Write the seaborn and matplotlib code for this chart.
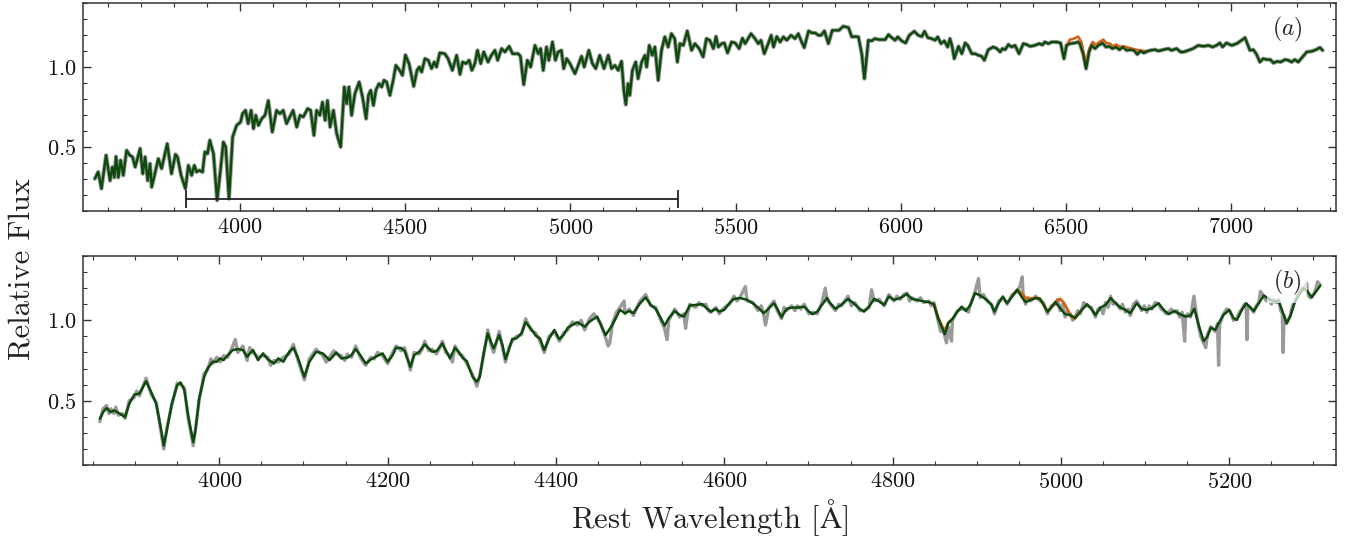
import matplotlib
matplotlib.use("Agg")
import matplotlib.pyplot as plt
import seaborn as sns
from matplotlib.ticker import MultipleLocator

# ---------------- data ----------------
# Panel (a): full spectrum, best-fit model (green) ~ observed (grey underneath)
wave_a = [3561, 3571, 3581, 3595, 3607, 3614, 3620, 3625, 3632, 3639, 3647, 3657, 3667, 3675, 3683,
          3698, 3706, 3713, 3721, 3728, 3733, 3740, 3753, 3763, 3780, 3793, 3805, 3811, 3822, 3835,
          3844, 3854, 3862, 3869, 3877, 3887, 3894, 3902, 3909, 3920, 3931, 3940, 3950, 3957, 3967,
          3978, 3990, 4002, 4008, 4017, 4025, 4034, 4041, 4048, 4056, 4066, 4076, 4086, 4098, 4111,
          4121, 4131, 4141, 4151, 4161, 4172, 4182, 4192, 4205, 4214, 4224, 4232, 4242, 4250, 4258,
          4265, 4273, 4283, 4293, 4305, 4316, 4323, 4330, 4338, 4348, 4361, 4371, 4382, 4389, 4396,
          4404, 4412, 4421, 4429, 4436, 4444, 4454, 4464, 4472, 4483, 4492, 4501, 4512, 4526, 4536,
          4543, 4550, 4560, 4570, 4580, 4588, 4595, 4605, 4620, 4630, 4643, 4656, 4666, 4674, 4684,
          4694, 4702, 4711, 4719, 4729, 4738, 4751, 4761, 4772, 4780, 4792, 4802, 4815, 4825, 4842,
          4849, 4859, 4870, 4880, 4893, 4903, 4910, 4918, 4928, 4935, 4946, 4955, 4963, 4973, 4980,
          4989, 4999, 5014, 5022, 5034, 5042, 5056, 5067, 5077, 5089, 5102, 5115, 5125, 5135, 5145,
          5155, 5162, 5168, 5175, 5180, 5188, 5198, 5205, 5216, 5226, 5231, 5239, 5248, 5256, 5266,
          5276, 5286, 5296, 5306, 5316, 5324, 5332, 5342, 5354, 5367, 5377, 5390, 5402, 5412, 5422,
          5433, 5441, 5448, 5458, 5466, 5476, 5488, 5499, 5511, 5521, 5529, 5547, 5559, 5569, 5577,
          5587, 5599, 5608, 5615, 5625, 5635, 5645, 5655, 5668, 5680, 5690, 5698, 5708, 5721, 5731,
          5741, 5751, 5759, 5769, 5781, 5793, 5803, 5813, 5826, 5842, 5852, 5862, 5872, 5882, 5890,
          5895, 5902, 5912, 5922, 5934, 5944, 5953, 5963, 5973, 5983, 5991, 6003, 6015, 6026, 6041,
          6053, 6064, 6072, 6082, 6094, 6104, 6112, 6122, 6132, 6142, 6149, 6156, 6162, 6175, 6185,
          6195, 6203, 6215, 6225, 6235, 6245, 6253, 6265, 6280, 6291, 6301, 6308, 6316, 6326, 6336,
          6346, 6358, 6371, 6381, 6392, 6406, 6419, 6429, 6436, 6447, 6457, 6472, 6484, 6494, 6502,
          6512, 6527, 6537, 6542, 6552, 6561, 6570, 6578, 6588, 6598, 6611, 6621, 6631, 6641, 6651,
          6662, 6672, 6684, 6694, 6706, 6716, 6726, 6736, 6746, 6756, 6770, 6780, 6795, 6810, 6820,
          6835, 6847, 6857, 6870, 6885, 6901, 6916, 6931, 6944, 6956, 6966, 6974, 6986, 7002, 7017,
          7032, 7042, 7049, 7057, 7067, 7077, 7087, 7097, 7109, 7119, 7128, 7140, 7150, 7163, 7173,
          7183, 7193, 7203, 7214, 7229, 7244, 7257, 7269, 7277]
flux_a = [0.302, 0.344, 0.240, 0.448, 0.290, 0.375, 0.310, 0.440, 0.310, 0.417, 0.323, 0.479, 0.448, 0.438, 0.375,
          0.490, 0.333, 0.438, 0.290, 0.396, 0.250, 0.310, 0.427, 0.365, 0.520, 0.333, 0.454, 0.438, 0.323, 0.240,
          0.385, 0.323, 0.385, 0.344, 0.354, 0.344, 0.469, 0.458, 0.542, 0.458, 0.167, 0.333, 0.531, 0.500, 0.177,
          0.563, 0.635, 0.656, 0.708, 0.729, 0.646, 0.729, 0.615, 0.698, 0.635, 0.677, 0.698, 0.790, 0.594, 0.729,
          0.708, 0.729, 0.646, 0.688, 0.729, 0.625, 0.698, 0.688, 0.740, 0.729, 0.573, 0.729, 0.698, 0.780, 0.667,
          0.790, 0.625, 0.729, 0.583, 0.500, 0.875, 0.771, 0.875, 0.698, 0.833, 0.906, 0.813, 0.677, 0.823, 0.854,
          0.760, 0.858, 0.896, 0.875, 0.917, 0.906, 0.823, 0.917, 1.010, 0.980, 0.948, 1.075, 1.020, 0.879, 0.979,
          1.000, 0.969, 1.052, 1.042, 0.990, 1.031, 1.000, 1.088, 1.083, 1.052, 0.979, 1.073, 0.954, 1.031, 1.021,
          1.042, 0.979, 1.021, 1.104, 1.021, 1.094, 1.031, 1.073, 1.104, 1.042, 1.115, 1.094, 1.129, 1.083, 1.083,
          1.067, 0.890, 1.042, 1.000, 1.135, 1.083, 1.115, 0.979, 1.125, 1.042, 1.156, 1.042, 1.094, 1.104, 0.990,
          1.052, 1.021, 0.958, 1.000, 1.067, 1.000, 1.104, 1.021, 0.990, 1.073, 0.990, 1.073, 0.990, 1.010, 0.979,
          1.035, 0.854, 0.765, 0.896, 0.823, 0.979, 1.031, 0.927, 1.031, 1.073, 1.000, 1.135, 1.073, 1.125, 0.917,
          1.104, 1.188, 1.125, 1.208, 1.177, 1.031, 1.146, 1.135, 1.225, 1.104, 1.146, 1.115, 1.063, 1.177, 1.167,
          1.115, 1.190, 1.125, 1.146, 1.150, 1.088, 1.156, 1.150, 1.115, 1.180, 1.146, 1.208, 1.177, 1.146, 1.167,
          1.083, 1.146, 1.198, 1.125, 1.190, 1.156, 1.188, 1.167, 1.198, 1.177, 1.208, 1.167, 1.121, 1.225, 1.213,
          1.213, 1.198, 1.198, 1.225, 1.146, 1.229, 1.229, 1.229, 1.254, 1.246, 1.188, 1.190, 1.188, 1.083, 0.927,
          1.021, 1.167, 1.163, 1.177, 1.171, 1.171, 1.171, 1.202, 1.183, 1.167, 1.188, 1.163, 1.150, 1.198, 1.223,
          1.198, 1.190, 1.223, 1.183, 1.177, 1.167, 1.188, 1.146, 1.163, 1.125, 1.177, 1.125, 1.052, 1.129, 1.083,
          1.150, 1.135, 1.083, 1.083, 1.073, 1.067, 1.042, 1.108, 1.125, 1.115, 1.094, 1.115, 1.108, 1.140, 1.125,
          1.135, 1.083, 1.146, 1.140, 1.129, 1.135, 1.146, 1.138, 1.156, 1.146, 1.156, 1.156, 1.150, 1.052, 1.135,
          1.146, 1.150, 1.156, 1.146, 1.083, 0.990, 1.094, 1.135, 1.115, 1.135, 1.150, 1.125, 1.129, 1.115, 1.125,
          1.108, 1.125, 1.104, 1.108, 1.104, 1.079, 1.100, 1.088, 1.098, 1.104, 1.108, 1.100, 1.108, 1.115, 1.104,
          1.115, 1.094, 1.094, 1.104, 1.115, 1.135, 1.129, 1.135, 1.125, 1.135, 1.150, 1.125, 1.150, 1.135, 1.146,
          1.167, 1.183, 1.146, 1.104, 1.108, 1.079, 1.031, 1.052, 1.046, 1.046, 1.025, 1.035, 1.031, 1.046, 1.042,
          1.031, 1.046, 1.031, 1.058, 1.094, 1.098, 1.108, 1.121, 1.104]

# Panel (a): emission-line model (orange) where it departs from the green fit
wave_a_em = [6502, 6512, 6524, 6537, 6547, 6561, 6571, 6581, 6591, 6601, 6613, 6623, 6633, 6643, 6653,
             6663, 6676, 6689, 6699, 6712, 6724, 6736, 6746]
flux_a_em = [1.135, 1.171, 1.177, 1.190, 1.156, 1.010, 1.115, 1.156, 1.138, 1.156, 1.171, 1.150, 1.146, 1.129,
             1.140, 1.125, 1.129, 1.121, 1.115, 1.108, 1.104, 1.100, 1.098]

# Wavelength range of the zoomed panel (b), marked in panel (a)
zoom_range = [3836, 5327]
zoom_bar_level = 0.173

# Panel (b): zoom, smooth fit (green)
wave_b = [3858, 3862, 3866, 3871, 3875, 3880, 3885, 3888, 3893, 3899, 3905, 3913, 3919, 3925, 3930,
          3934, 3938, 3943.5, 3950, 3954, 3958.5, 3963, 3969, 3972, 3976, 3982, 3986, 3992, 3997, 4001,
          4005, 4010, 4016, 4022, 4028, 4033, 4040, 4046, 4052, 4057.5, 4065, 4070, 4076, 4083, 4088,
          4093, 4101, 4107, 4115, 4123, 4131, 4139, 4145, 4152, 4157, 4162, 4167.5, 4174, 4180, 4188,
          4194, 4200, 4206, 4210, 4216, 4220, 4227, 4231.5, 4237.5, 4244, 4249, 4253, 4258, 4265, 4269,
          4274, 4280, 4285, 4289, 4294, 4301, 4306, 4309.5, 4314, 4319, 4322.6, 4326, 4332.5, 4336.4, 4340,
          4344, 4348, 4353, 4359, 4364, 4370, 4376, 4381, 4386, 4392, 4398, 4404, 4409, 4414, 4419.5,
          4425.5, 4434, 4440, 4449, 4453, 4459, 4467, 4476, 4482, 4487, 4492, 4500, 4506.6, 4512.6, 4518.5,
          4523.6, 4529, 4534, 4541, 4547, 4552, 4559, 4566, 4574, 4578, 4584, 4590, 4594, 4600, 4606,
          4611.5, 4619.4, 4627, 4634, 4640, 4647, 4653, 4659, 4663, 4668, 4674, 4680, 4687, 4695, 4700.5,
          4705, 4710.4, 4716, 4722, 4726, 4732, 4739, 4747, 4755, 4761, 4766, 4772, 4778, 4784, 4790,
          4795.5, 4801.5, 4809, 4817, 4823, 4829, 4837, 4843, 4849, 4854, 4859, 4862, 4866, 4871, 4877,
          4882, 4887, 4892.5, 4898, 4904, 4912, 4917.4, 4921, 4926, 4931, 4936, 4942, 4948, 4953, 4958,
          4964, 4970, 4975, 4979, 4984, 4988.5, 4993.4, 4999, 5005, 5011, 5017, 5023, 5031, 5036, 5041,
          5047, 5053, 5059, 5065, 5070.6, 5076.5, 5082.4, 5090, 5096, 5102, 5108, 5116, 5122, 5128, 5135,
          5141, 5148, 5154, 5158.4, 5163.6, 5169.5, 5174, 5178, 5183.4, 5187.3, 5193, 5200, 5205, 5209, 5215,
          5220, 5225, 5229, 5235, 5241, 5247, 5253, 5258.6, 5264, 5268, 5272.4, 5278.4, 5283.5, 5288, 5293,
          5298, 5303, 5308]
fit_b = [0.388, 0.429, 0.454, 0.429, 0.440, 0.425, 0.408, 0.398, 0.481, 0.538, 0.544, 0.621, 0.554, 0.481, 0.346,
         0.221, 0.325, 0.481, 0.596, 0.613, 0.565, 0.408, 0.242, 0.325, 0.513, 0.648, 0.700, 0.742, 0.742, 0.763,
         0.752, 0.783, 0.815, 0.821, 0.815, 0.773, 0.815, 0.752, 0.794, 0.758, 0.731, 0.763, 0.742, 0.804, 0.829,
         0.773, 0.648, 0.742, 0.804, 0.794, 0.752, 0.800, 0.763, 0.767, 0.783, 0.821, 0.783, 0.731, 0.756, 0.779,
         0.794, 0.742, 0.783, 0.829, 0.828, 0.810, 0.710, 0.783, 0.804, 0.850, 0.825, 0.804, 0.808, 0.856, 0.815,
         0.763, 0.829, 0.800, 0.767, 0.746, 0.648, 0.617, 0.648, 0.794, 0.919, 0.867, 0.825, 0.908, 0.846, 0.758,
         0.815, 0.883, 0.888, 0.919, 0.988, 0.950, 0.904, 0.888, 0.815, 0.888, 0.940, 0.883, 0.908, 0.954, 0.971,
         0.988, 0.960, 0.992, 1.023, 0.975, 0.908, 0.971, 1.065, 1.044, 1.058, 1.044, 1.106, 1.142, 1.096, 1.071,
         1.023, 0.967, 1.013, 1.058, 1.033, 1.023, 1.092, 1.096, 1.100, 1.079, 1.054, 1.071, 1.054, 1.065, 1.106,
         1.133, 1.138, 1.127, 1.106, 1.079, 1.044, 1.075, 1.106, 1.071, 1.019, 1.071, 1.079, 1.079, 1.085, 1.054,
         1.038, 1.054, 1.096, 1.138, 1.106, 1.071, 1.096, 1.133, 1.100, 1.071, 1.054, 1.085, 1.133, 1.117, 1.096,
         1.148, 1.127, 1.138, 1.163, 1.133, 1.127, 1.117, 1.113, 1.100, 1.013, 0.950, 0.913, 0.981, 1.008, 1.054,
         1.085, 1.058, 1.096, 1.169, 1.154, 1.127, 1.096, 1.054, 1.106, 1.148, 1.106, 1.148, 1.190, 1.148, 1.113,
         1.127, 1.138, 1.133, 1.100, 1.054, 1.079, 1.113, 1.075, 1.038, 1.033, 1.013, 1.054, 1.100, 1.071, 1.033,
         1.079, 1.096, 1.138, 1.106, 1.079, 1.065, 1.044, 1.106, 1.071, 1.065, 1.075, 1.106, 1.065, 1.038, 1.058,
         1.038, 1.023, 1.029, 1.071, 0.971, 0.871, 0.898, 0.954, 0.940, 0.981, 1.033, 1.065, 1.013, 1.002, 1.065,
         1.106, 1.079, 1.058, 1.106, 1.154, 1.133, 1.117, 1.121, 1.044, 0.981, 1.023, 1.121, 1.163, 1.200, 1.179,
         1.142, 1.179, 1.215]

# Panel (b): observed spectrum (grey)
wave_b_obs = [3858, 3860, 3862, 3866, 3869, 3871, 3875, 3877, 3880, 3885, 3888, 3893, 3899, 3902, 3905,
              3913, 3919, 3925, 3930, 3934, 3938, 3943.5, 3950, 3954, 3958.5, 3963, 3969, 3972, 3976, 3982,
              3986, 3990, 3992, 3997, 4001, 4005, 4010, 4016, 4019, 4022, 4028, 4033, 4036, 4040, 4046,
              4052, 4057.5, 4061, 4065, 4070, 4076, 4083, 4088, 4093, 4101, 4107, 4111, 4115, 4123, 4127,
              4131, 4136, 4139, 4145, 4149, 4152, 4157, 4162, 4167.5, 4171, 4174, 4180, 4184, 4188, 4194,
              4200, 4206, 4210, 4216, 4220, 4223, 4227, 4231.5, 4237.5, 4241, 4244, 4249, 4253, 4258, 4262,
              4265, 4269, 4274, 4277, 4280, 4285, 4289, 4294, 4301, 4306, 4309.5, 4314, 4319, 4322.6, 4326,
              4329, 4332.5, 4336.4, 4340, 4344, 4348, 4353, 4359, 4364, 4370, 4376, 4381, 4386, 4392, 4398,
              4404, 4409, 4414, 4419.5, 4425.5, 4430, 4434, 4440, 4445, 4449, 4453, 4459, 4462, 4464, 4467,
              4472, 4476, 4481, 4482, 4487, 4492, 4496, 4500, 4506.6, 4509, 4512.6, 4518.5, 4523.6, 4529, 4532,
              4534, 4538, 4541, 4547, 4552, 4554, 4556, 4559, 4566, 4570, 4574, 4578, 4581, 4584, 4590,
              4594, 4600, 4606, 4611.5, 4615, 4619.4, 4625, 4627, 4634, 4640, 4644, 4647, 4649, 4653, 4659,
              4663, 4668, 4671, 4674, 4680, 4684, 4687, 4691, 4695, 4700.5, 4705, 4710.4, 4716, 4720, 4722,
              4726, 4732, 4736, 4739, 4743, 4747, 4751, 4755, 4761, 4766, 4772, 4775, 4778, 4784, 4790,
              4795.5, 4801.5, 4805, 4809, 4813, 4817, 4820, 4823, 4829, 4833, 4837, 4843, 4846, 4849, 4854,
              4857, 4859, 4862, 4864, 4866, 4870, 4871, 4874, 4877, 4882, 4887, 4890, 4892.5, 4898, 4902,
              4904, 4908, 4912, 4917.4, 4921, 4924, 4926, 4931, 4936, 4942, 4948, 4951, 4954, 4955, 4958,
              4961, 4964, 4970, 4975, 4979, 4984, 4988.5, 4993.4, 4996, 4999, 5002, 5005, 5008, 5011, 5014,
              5017, 5020, 5023, 5027, 5031, 5036, 5041, 5044, 5047, 5050, 5053, 5056, 5059, 5062, 5065,
              5070.6, 5073, 5076.5, 5080, 5082.4, 5086, 5090, 5096, 5099, 5102, 5105, 5108, 5112, 5116, 5119,
              5122, 5125, 5128, 5131, 5135, 5138, 5141, 5144, 5147, 5148, 5151, 5154, 5158, 5160, 5163.6,
              5166, 5169.5, 5172, 5174, 5178, 5183.4, 5186, 5187.3, 5188.5, 5193, 5197, 5200, 5203, 5205, 5209,
              5212, 5215, 5218, 5220, 5221, 5222, 5225, 5229, 5232, 5235, 5237, 5241, 5244, 5247, 5250,
              5253, 5256, 5258.6, 5261, 5263, 5264, 5265, 5268, 5272.4, 5275, 5278.4, 5283.5, 5286, 5288, 5292,
              5293, 5296, 5298, 5301, 5303, 5305, 5308]
obs_b = [0.37, 0.41, 0.45, 0.47, 0.42, 0.45, 0.42, 0.46, 0.41, 0.42, 0.39, 0.50, 0.52, 0.56, 0.53,
         0.64, 0.54, 0.49, 0.33, 0.20, 0.34, 0.47, 0.61, 0.60, 0.58, 0.39, 0.22, 0.34, 0.50, 0.67,
         0.69, 0.76, 0.73, 0.77, 0.74, 0.78, 0.77, 0.84, 0.88, 0.80, 0.84, 0.75, 0.83, 0.80, 0.77,
         0.78, 0.77, 0.72, 0.75, 0.74, 0.77, 0.79, 0.85, 0.76, 0.63, 0.76, 0.79, 0.82, 0.78, 0.74,
         0.77, 0.81, 0.79, 0.78, 0.75, 0.79, 0.77, 0.84, 0.77, 0.74, 0.72, 0.77, 0.76, 0.80, 0.78,
         0.73, 0.80, 0.84, 0.81, 0.83, 0.78, 0.69, 0.80, 0.79, 0.82, 0.87, 0.81, 0.82, 0.79, 0.83,
         0.87, 0.80, 0.78, 0.74, 0.84, 0.79, 0.78, 0.73, 0.66, 0.59, 0.66, 0.78, 0.94, 0.85, 0.80,
         0.86, 0.93, 0.83, 0.74, 0.83, 0.87, 0.90, 0.91, 1.01, 0.94, 0.92, 0.87, 0.80, 0.90, 0.93,
         0.87, 0.92, 0.94, 0.99, 0.97, 1.00, 0.94, 1.01, 1.04, 1.01, 0.98, 0.89, 0.84, 0.86, 0.98,
         1.05, 1.08, 1.12, 1.04, 1.07, 1.03, 1.08, 1.12, 1.16, 1.13, 1.09, 1.08, 1.01, 0.95, 0.88,
         1.00, 1.04, 1.07, 1.02, 1.04, 0.95, 1.03, 1.10, 1.08, 1.11, 1.09, 1.10, 1.06, 1.05, 1.08,
         1.04, 1.08, 1.10, 1.15, 1.12, 1.15, 1.21, 1.12, 1.11, 1.06, 1.09, 1.03, 0.97, 1.08, 1.12,
         1.06, 1.01, 1.08, 1.06, 1.09, 1.06, 1.09, 1.07, 1.10, 1.04, 1.05, 1.04, 1.11, 1.20, 1.13,
         1.10, 1.06, 1.10, 1.09, 1.12, 1.15, 1.09, 1.11, 1.06, 1.06, 1.08, 1.19, 1.12, 1.13, 1.09,
         1.16, 1.12, 1.15, 1.13, 1.16, 1.17, 1.12, 1.14, 1.12, 1.14, 1.11, 1.12, 1.09, 1.11, 1.00,
         0.93, 0.95, 0.90, 0.86, 0.96, 0.87, 1.00, 1.03, 1.06, 1.07, 1.07, 1.05, 1.10, 1.18, 1.26,
         1.14, 1.16, 1.12, 1.10, 1.04, 1.09, 1.12, 1.14, 1.10, 1.16, 1.18, 1.21, 1.27, 1.15, 1.10,
         1.14, 1.12, 1.15, 1.12, 1.11, 1.04, 1.09, 1.10, 1.13, 1.06, 1.10, 1.02, 1.06, 1.04, 1.00,
         1.02, 1.06, 1.04, 1.11, 1.09, 1.08, 1.02, 1.07, 1.08, 1.04, 1.11, 1.08, 1.15, 1.10, 1.11,
         1.07, 1.10, 1.05, 1.07, 1.03, 1.10, 1.12, 1.06, 1.09, 1.05, 1.09, 1.07, 1.11, 1.10, 1.07,
         1.06, 1.04, 1.05, 1.07, 1.05, 1.06, 1.02, 1.05, 0.87, 1.03, 1.04, 1.02, 1.15, 1.07, 0.96,
         0.90, 0.86, 0.83, 0.91, 0.96, 0.93, 0.98, 0.72, 0.97, 1.04, 1.07, 1.06, 1.03, 1.00, 1.01,
         1.05, 1.07, 1.10, 1.10, 0.88, 1.09, 1.08, 1.05, 1.09, 1.11, 1.18, 1.15, 1.12, 1.14, 1.10,
         1.13, 1.11, 1.13, 1.06, 1.04, 0.80, 1.03, 0.98, 1.03, 1.09, 1.12, 1.17, 1.20, 1.19, 1.23,
         1.16, 1.14, 1.15, 1.17, 1.20, 1.24, 1.22]

# Panel (b): emission-line model (orange) where it departs from the green fit
wave_b_em1 = [4849, 4854, 4859, 4862, 4866, 4871]
flux_b_em1 = [1.100, 1.020, 0.960, 0.935, 0.985, 1.008]
wave_b_em2 = [4942, 4948, 4953, 4958, 4964, 4970, 4975, 4979, 4984, 4988.5, 4993.4, 4999, 5003, 5007,
              5011, 5015, 5020, 5023]
flux_b_em2 = [1.148, 1.190, 1.170, 1.140, 1.135, 1.140, 1.135, 1.100, 1.054, 1.080, 1.115, 1.133, 1.112,
              1.075, 1.030, 1.013, 1.040, 1.054]

# ---------------- style ----------------
sns.set_style("ticks")
plt.rcParams['font.family'] = ['cmr10', 'DejaVu Serif']
plt.rcParams['mathtext.fontset'] = 'cm'
plt.rcParams['axes.formatter.use_mathtext'] = True
plt.rcParams['axes.unicode_minus'] = False
plt.rcParams['lines.solid_joinstyle'] = 'round'
plt.rcParams['lines.solid_capstyle'] = 'round'

GREY = '#9a9a9a'
ORANGE = '#d2621a'
GREEN = '#0e4a0e'
SPINE = '#333333'

fig = plt.figure(figsize=(13.49, 5.39), dpi=100)
ax_a = fig.add_axes([0.0615, 0.6085, 0.929, 0.386])
ax_b = fig.add_axes([0.0615, 0.1373, 0.929, 0.3878])

# Panel (a)
sns.lineplot(x=wave_a, y=flux_a, ax=ax_a, color=GREY, lw=3.0, estimator=None, sort=False)
sns.lineplot(x=wave_a_em, y=flux_a_em, ax=ax_a, color=ORANGE, lw=1.9, estimator=None, sort=False)
sns.lineplot(x=wave_a, y=flux_a, ax=ax_a, color=GREEN, lw=1.7, estimator=None, sort=False)
bar_c = 0.5 * (zoom_range[0] + zoom_range[1])
bar_hw = 0.5 * (zoom_range[1] - zoom_range[0])
ax_a.errorbar([bar_c], [zoom_bar_level], xerr=[bar_hw], color='#222222', lw=1.3,
              capsize=6.5, capthick=1.3)
ax_a.set_xlim(3525, 7318)
ax_a.xaxis.set_major_locator(MultipleLocator(500))
ax_a.xaxis.set_minor_locator(MultipleLocator(100))

# Panel (b)
sns.lineplot(x=wave_b_obs, y=obs_b, ax=ax_b, color=GREY, lw=2.4, estimator=None, sort=False)
sns.lineplot(x=wave_b_em1, y=flux_b_em1, ax=ax_b, color=ORANGE, lw=2.0, estimator=None, sort=False)
sns.lineplot(x=wave_b_em2, y=flux_b_em2, ax=ax_b, color=ORANGE, lw=2.0, estimator=None, sort=False)
sns.lineplot(x=wave_b, y=fit_b, ax=ax_b, color=GREEN, lw=1.8, estimator=None, sort=False)
ax_b.set_xlim(3838, 5327)
ax_b.xaxis.set_major_locator(MultipleLocator(200))
ax_b.xaxis.set_minor_locator(MultipleLocator(50))

for ax, lab in ((ax_a, r'$(a)$'), (ax_b, r'$(b)$')):
    ax.set_ylim(0.1, 1.4)
    ax.yaxis.set_major_locator(MultipleLocator(0.5))
    ax.yaxis.set_minor_locator(MultipleLocator(0.1))
    ax.tick_params(which='both', direction='in', top=True, right=True,
                   colors=SPINE, labelcolor='#111111', labelsize=16, pad=5)
    ax.tick_params(which='major', length=5.5, width=1.0)
    ax.tick_params(which='minor', length=3.0, width=0.8)
    for s in ax.spines.values():
        s.set_color(SPINE)
        s.set_linewidth(1.1)
    ax.set_xlabel('')
    ax.set_ylabel('')
    ax.text(0.961, 0.875, lab, transform=ax.transAxes, fontsize=17, ha='center', va='center',
            color='#222222',
            bbox=dict(facecolor='white', edgecolor='none', alpha=0.7, boxstyle='square,pad=0.25'))

ax_b.set_xlabel(r'Rest Wavelength [$\mathrm{\AA}$]', fontsize=22, color='#222222', labelpad=4)
fig.text(0.016, 0.5, 'Relative Flux', rotation=90, ha='center', va='center',
         fontsize=22, color='#222222')

fig.savefig('out.png', dpi=100)
